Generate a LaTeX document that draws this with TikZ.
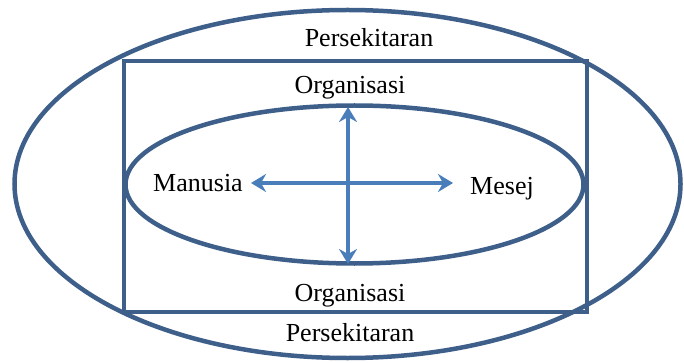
\documentclass[tikz,border=0pt]{standalone}
\usepackage{fontspec}
\setmainfont{Liberation Serif}
\usetikzlibrary{arrows.meta}
\definecolor{ring}{HTML}{3D5F8A}
\definecolor{flow}{HTML}{4A7EBB}

\begin{document}
\begin{tikzpicture}[x=1pt,y=-1pt]
\tikzstyle{edge} = [draw=ring,line width=4.5pt]
\tikzstyle{lbl} = [anchor=base,inner sep=0pt,font=\fontsize{26}{30}\selectfont]
\tikzstyle{link} = [draw=flow,line width=4.5pt,{Stealth[length=15pt,width=18pt,inset=5pt]}-{Stealth[length=15pt,width=18pt,inset=5pt]}]

\useasboundingbox (0,0) rectangle (684,363);

\draw[edge] (347.5,184) ellipse [x radius=333,y radius=174];
\draw[edge] (124,61) rectangle (587,312);
\draw[edge] (354.5,184.5) ellipse [x radius=229,y radius=79];

\node[lbl](envtop)	at (369,47)	{Persekitaran};
\node[lbl](orgtop)	at (350,94)	{Organisasi};
\node[lbl](orgbot)	at (350,301)	{Organisasi};
\node[lbl](envbot)	at (350,341)	{Persekitaran};
\node[lbl](human)	at (198,192)	{Manusia};
\node[lbl](message)	at (502,195)	{Mesej};

\coordinate (up)	at (348,107);
\coordinate (down)	at (348,264);
\coordinate (west)	at (251,183);
\coordinate (east)	at (453,183);

\draw[link] (up) -- (down);
\draw[link] (west) -- (east);

\end{tikzpicture}
\end{document}
